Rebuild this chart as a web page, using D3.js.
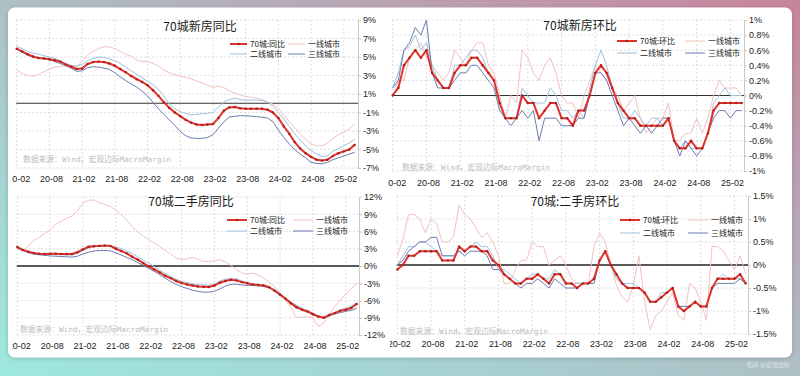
<!DOCTYPE html>
<html><head><meta charset="utf-8">
<script src="https://cdn.jsdelivr.net/npm/d3@7"></script>
<style>body{margin:0;overflow:hidden;background:#fff}svg{display:block}</style>
</head><body>
<svg id="c" width="800" height="376"></svg>
<script>
// ---------- categories ----------
const months = ["20-02","20-03","20-04","20-05","20-06","20-07","20-08","20-09","20-10","20-11","20-12","21-01",
"21-02","21-03","21-04","21-05","21-06","21-07","21-08","21-09","21-10","21-11","21-12","22-01",
"22-02","22-03","22-04","22-05","22-06","22-07","22-08","22-09","22-10","22-11","22-12","23-01",
"23-02","23-03","23-04","23-05","23-06","23-07","23-08","23-09","23-10","23-11","23-12","24-01",
"24-02","24-03","24-04","24-05","24-06","24-07","24-08","24-09","24-10","24-11","24-12","25-01",
"25-02","25-03","25-04"];
const xTickLabels = ["20-02","20-08","21-02","21-08","22-02","22-08","23-02","23-08","24-02","24-08","25-02"];
const seriesNames = ["70城","一线城市","二线城市","三线城市"];

// ---------- 70城新房同比 ----------
const newYoY70 = [5.9,5.6,5.3,5.05,4.9,4.85,4.75,4.65,4.5,4.2,3.95,3.7,3.75,4.25,4.45,4.5,4.45,4.3,4.05,3.7,3.35,2.95,2.6,2.3,1.95,1.4,0.8,0.1,-0.5,-1.0,-1.4,-1.8,-2.1,-2.3,-2.35,-2.3,-2.25,-1.6,-0.8,-0.45,-0.4,-0.55,-0.6,-0.6,-0.6,-0.6,-0.7,-1.0,-1.6,-2.5,-3.3,-4.2,-4.9,-5.4,-5.8,-6.1,-6.2,-6.1,-5.7,-5.4,-5.2,-5.0,-4.5];
const newYoYT1 = [3.6,3.25,3.0,2.9,3.1,3.4,3.7,3.9,4.0,4.0,4.0,4.0,4.5,5.2,5.6,5.9,6.1,6.1,5.9,5.6,5.3,5.1,4.7,4.5,4.5,4.3,4.0,3.6,3.3,3.1,2.95,2.8,2.65,2.4,2.2,1.95,1.7,1.85,1.7,1.35,1.1,0.9,0.75,0.65,0.55,0.4,0.15,-0.1,-0.6,-1.3,-2.0,-2.6,-3.3,-3.9,-4.4,-4.6,-4.6,-4.3,-3.8,-3.4,-3.1,-2.8,-2.2];
const newYoYT2 = [6.2,5.9,5.6,5.4,5.3,5.15,5.0,4.85,4.6,4.25,4.1,4.0,4.2,4.6,4.85,5.0,4.95,4.8,4.6,4.3,3.9,3.5,3.15,2.75,2.4,2.0,1.5,0.8,-0.1,-0.6,-0.9,-1.1,-1.25,-1.2,-1.15,-1.1,-1.0,-0.4,0.1,0.4,0.55,0.4,0.35,0.35,0.35,0.3,0.15,-0.3,-1.0,-1.7,-2.5,-3.3,-4.0,-4.6,-5.1,-5.5,-5.75,-5.7,-5.2,-4.9,-4.6,-4.3,-3.9];
const newYoYT3 = [5.9,5.5,5.2,5.0,4.9,4.8,4.7,4.5,4.3,4.05,3.8,3.45,3.5,3.85,3.95,3.9,3.8,3.65,3.3,2.85,2.45,2.1,1.75,1.3,0.8,0.1,-0.6,-1.2,-1.8,-2.4,-3.05,-3.5,-3.75,-3.8,-3.8,-3.7,-3.4,-2.7,-2.0,-1.5,-1.4,-1.35,-1.35,-1.4,-1.45,-1.5,-1.6,-2.0,-2.9,-3.7,-4.4,-5.0,-5.5,-5.9,-6.4,-6.5,-6.55,-6.4,-6.1,-5.9,-5.7,-5.5,-5.3];

// ---------- 70城新房环比 ----------
const newMoM70 = [0.0,0.1,0.4,0.5,0.6,0.5,0.6,0.3,0.2,0.1,0.1,0.3,0.4,0.4,0.5,0.5,0.4,0.3,0.2,-0.1,-0.3,-0.3,-0.3,0.0,-0.1,-0.1,-0.3,-0.2,-0.1,-0.1,-0.3,-0.3,-0.4,-0.2,-0.2,0.0,0.3,0.4,0.3,0.1,-0.1,-0.2,-0.3,-0.3,-0.4,-0.4,-0.4,-0.4,-0.4,-0.3,-0.6,-0.7,-0.7,-0.6,-0.7,-0.7,-0.5,-0.2,-0.1,-0.1,-0.1,-0.1,-0.1];
const newMoMT1 = [0.0,0.2,0.2,0.5,0.6,0.7,0.5,0.4,0.3,0.2,0.3,0.6,0.5,0.4,0.6,0.7,0.7,0.4,0.3,0.0,-0.3,0.0,-0.1,0.6,0.5,0.3,0.2,0.4,0.5,0.3,0.0,-0.1,-0.1,-0.3,0.0,0.2,0.4,0.3,0.2,0.1,0.0,-0.2,-0.1,0.0,-0.3,-0.5,-0.4,-0.3,-0.3,-0.1,-0.6,-0.6,-0.5,-0.5,-0.3,-0.5,-0.3,0.0,0.2,0.1,0.1,0.1,0.0];
const newMoMT2 = [0.1,0.3,0.6,0.65,0.8,0.6,0.7,0.4,0.2,0.1,0.1,0.4,0.4,0.5,0.6,0.6,0.5,0.3,0.2,-0.1,-0.3,-0.3,-0.3,0.1,0.0,-0.1,-0.1,-0.1,0.1,0.0,-0.2,-0.2,-0.3,-0.2,-0.3,0.1,0.4,0.6,0.4,0.1,-0.1,-0.3,-0.3,-0.2,-0.3,-0.4,-0.3,-0.3,-0.4,-0.3,-0.6,-0.7,-0.6,-0.7,-0.7,-0.7,-0.5,-0.1,0.0,0.1,0.0,0.0,0.0];
const newMoMT3 = [0.1,0.2,0.6,0.7,0.9,0.8,1.0,0.3,0.1,0.1,0.1,0.2,0.3,0.3,0.4,0.4,0.3,0.2,0.1,-0.2,-0.3,-0.4,-0.3,-0.2,-0.3,-0.2,-0.6,-0.3,-0.3,-0.3,-0.4,-0.4,-0.4,-0.3,-0.3,0.0,0.3,0.3,0.2,0.0,-0.2,-0.4,-0.3,-0.4,-0.5,-0.4,-0.5,-0.4,-0.3,-0.3,-0.6,-0.8,-0.6,-0.7,-0.8,-0.7,-0.5,-0.3,-0.2,-0.2,-0.3,-0.2,-0.2];

// ---------- 70城二手房同比 ----------
const oldYoY70 = [3.3,2.8,2.5,2.25,2.15,2.1,2.15,2.15,2.1,2.1,2.1,2.4,2.9,3.35,3.45,3.5,3.55,3.5,3.0,2.6,2.2,1.6,1.1,0.5,-0.05,-0.6,-1.1,-1.7,-2.1,-2.6,-2.95,-3.2,-3.4,-3.55,-3.6,-3.65,-3.4,-2.9,-2.6,-2.4,-2.5,-2.8,-3.0,-3.2,-3.3,-3.4,-3.7,-4.3,-5.0,-5.7,-6.5,-7.2,-7.6,-7.9,-8.4,-8.8,-9.0,-8.5,-8.2,-7.8,-7.6,-7.3,-6.6];
const oldYoYT1 = [3.1,2.6,3.5,4.4,5.0,5.6,6.3,7.2,7.8,8.3,8.7,9.6,11.0,11.4,11.5,11.0,10.7,10.4,9.7,8.9,8.0,6.8,5.9,5.2,4.6,4.0,3.4,2.7,2.1,1.4,1.1,1.25,1.5,1.2,0.8,0.75,0.9,1.1,0.7,0.1,-0.6,-1.2,-1.4,-1.25,-1.6,-2.1,-2.8,-3.6,-4.7,-6.0,-7.2,-9.0,-8.9,-8.8,-9.0,-10.5,-9.9,-8.5,-7.0,-5.9,-4.9,-4.0,-3.0];
const oldYoYT2 = [3.2,2.8,2.4,2.2,2.1,2.0,2.0,2.0,1.95,1.9,1.9,2.2,2.7,3.1,3.35,3.45,3.5,3.5,3.3,3.0,2.6,2.2,1.6,1.0,0.5,-0.1,-0.7,-1.3,-1.8,-2.3,-2.65,-2.9,-3.1,-3.25,-3.3,-3.35,-3.2,-2.6,-2.3,-2.2,-2.2,-2.6,-2.9,-3.1,-3.2,-3.4,-3.7,-4.1,-4.8,-5.6,-6.4,-7.1,-7.6,-8.0,-8.3,-8.8,-9.0,-8.6,-8.0,-7.6,-7.3,-7.0,-6.4];
const oldYoYT3 = [3.1,2.7,2.3,2.05,1.95,1.85,1.75,1.7,1.65,1.6,1.55,1.7,2.1,2.4,2.6,2.7,2.7,2.65,2.3,1.9,1.5,1.1,0.6,0.1,-0.4,-0.9,-1.5,-2.1,-2.7,-3.2,-3.6,-3.9,-4.2,-4.4,-4.55,-4.55,-4.4,-4.0,-3.5,-3.2,-3.15,-3.3,-3.4,-3.4,-3.45,-3.55,-3.8,-4.2,-4.8,-5.6,-6.3,-6.9,-7.4,-7.8,-8.2,-8.7,-9.0,-8.7,-8.3,-8.1,-7.9,-7.7,-7.35];

// ---------- 70城:二手房环比 ----------
const oldMoM70 = [-0.1,0.0,0.2,0.2,0.3,0.3,0.3,0.3,0.1,0.1,0.1,0.4,0.3,0.4,0.4,0.3,0.3,0.1,0.0,-0.2,-0.3,-0.4,-0.4,-0.3,-0.3,-0.2,-0.3,-0.4,-0.2,-0.2,-0.4,-0.4,-0.5,-0.4,-0.4,-0.3,0.1,0.3,0.0,-0.2,-0.4,-0.5,-0.5,-0.5,-0.6,-0.8,-0.8,-0.7,-0.6,-0.5,-0.9,-1.0,-0.9,-0.8,-0.9,-0.9,-0.5,-0.3,-0.3,-0.3,-0.3,-0.2,-0.4];
const oldMoMT1 = [0.2,0.55,1.1,1.1,1.0,0.7,1.0,0.9,0.5,0.5,0.6,1.3,1.1,1.0,0.8,0.6,0.7,0.5,0.2,-0.4,-0.4,-0.1,0.1,0.1,0.5,0.4,0.4,0.0,0.1,0.2,0.0,-0.3,-0.4,-0.4,-0.4,0.4,0.7,0.5,0.0,-0.45,-0.7,-0.8,-0.45,0.2,-0.8,-1.4,-1.1,-1.0,-0.8,-0.6,-1.1,-1.2,-0.4,-0.5,-0.8,-1.2,0.4,0.4,0.3,0.1,-0.1,0.2,-0.2];
const oldMoMT2 = [0.0,0.2,0.4,0.4,0.5,0.5,0.4,0.3,0.2,0.2,0.2,0.3,0.3,0.4,0.5,0.4,0.4,0.2,-0.1,-0.1,-0.2,-0.3,-0.4,-0.3,-0.2,-0.2,-0.3,-0.3,-0.1,-0.2,-0.4,-0.4,-0.4,-0.4,-0.4,-0.3,0.1,0.3,0.0,-0.3,-0.4,-0.4,-0.4,-0.5,-0.6,-0.8,-0.8,-0.6,-0.6,-0.5,-0.9,-0.9,-0.9,-0.8,-0.9,-0.9,-0.5,-0.3,-0.2,-0.3,-0.3,-0.3,-0.4];
const oldMoMT3 = [0.0,0.1,0.3,0.4,0.5,0.5,0.6,0.6,0.2,0.2,0.2,0.3,0.2,0.3,0.3,0.3,0.2,-0.1,-0.1,-0.2,-0.3,-0.4,-0.5,-0.4,-0.4,-0.3,-0.4,-0.5,-0.3,-0.4,-0.5,-0.5,-0.5,-0.4,-0.4,-0.4,0.1,0.3,0.0,-0.2,-0.4,-0.5,-0.5,-0.5,-0.6,-0.8,-0.8,-0.7,-0.6,-0.5,-0.9,-0.9,-0.9,-0.8,-0.9,-0.9,-0.5,-0.4,-0.4,-0.4,-0.4,-0.3,-0.4];

// ---------- y ticks ----------
const yTicks1 = [9,7,5,3,1,-1,-3,-5,-7];
const yTicks2 = [1,0.8,0.6,0.4,0.2,0,-0.2,-0.4,-0.6,-0.8,-1];
const yTicks3 = [12,9,6,3,0,-3,-6,-9,-12];
const yTicks4 = [1.5,1,0.5,0,-0.5,-1,-1.5];

const titles = ["70城新房同比","70城新房环比","70城二手房同比","70城:二手房环比"];
const redLabels = ["70城:同比","70城:环比","70城:同比","70城:环比"];
const sourceText = "数据来源：Wind，宏观边际MacroMargin";

// ---------- drawing ----------
const svg = d3.select("#c");
const defs = svg.append("defs");
const bg = defs.append("linearGradient").attr("id","bg").attr("x1",0).attr("y1",1).attr("x2",1).attr("y2",0);
bg.append("stop").attr("offset","0%").attr("stop-color","#9de9de");
bg.append("stop").attr("offset","50%").attr("stop-color","#adc0c6");
bg.append("stop").attr("offset","100%").attr("stop-color","#c7849c");
svg.append("rect").attr("width",800).attr("height",376).attr("fill","url(#bg)");
const sh = defs.append("filter").attr("id","sh").attr("x","-5%").attr("y","-5%").attr("width","110%").attr("height","110%");
sh.append("feDropShadow").attr("dx",0).attr("dy",1).attr("stdDeviation",2).attr("flood-color","#000").attr("flood-opacity",0.18);
svg.append("rect").attr("x",8).attr("y",7.5).attr("width",784).attr("height",350).attr("rx",7).attr("fill","#fff").attr("filter","url(#sh)");

const C = {red:"#e1322c", dot:"#a8201b", pink:"#f2c2c0", lblue:"#9ec2df", dblue:"#6c7bb0"};
const numFont = "'Liberation Sans', Arial, sans-serif";
const cjkFont = "'Noto Sans CJK SC', sans-serif";
const pct = d => (Math.round(d*10)/10).toString() + "%";

const panels = [
  {series:[newYoY70,newYoYT1,newYoYT2,newYoYT3], ticks:yTicks1, dom:[-7,9],
   clip:[12,8,375,184], x0:16.7, x1:354.7, axisX:358, yTop:20, yBot:168, labY:182, zc:"#333", zw:1.2,
   title:[200,27], leg:{r1:44,r2:54,c1:230,c2:288,len:17}, src:[23,159]},
  {series:[newMoM70,newMoMT1,newMoMT2,newMoMT3], ticks:yTicks2, dom:[-1,1],
   clip:[388,8,404,184], x0:392.7, x1:741.7, axisX:744, yTop:20, yBot:171, labY:186, zc:"#333", zw:1.2,
   title:[580,26], leg:{r1:41,r2:53,c1:617,c2:685,len:20}, src:[402,167]},
  {series:[oldYoY70,oldYoYT1,oldYoYT2,oldYoYT3], ticks:yTicks3, dom:[-12,12],
   clip:[12,186,375,171], x0:17.3, x1:356.7, axisX:359, yTop:197, yBot:335, labY:349, zc:"#5a5a5a", zw:1.8,
   title:[191,202], leg:{r1:220,r2:231,c1:227,c2:293,len:20}, src:[20,329]},
  {series:[oldMoM70,oldMoMT1,oldMoMT2,oldMoMT3], ticks:yTicks4, dom:[-1.5,1.5],
   clip:[390,186,404,171], x0:397.3, x1:745.7, axisX:748, yTop:196, yBot:334, labY:347, zc:"#5a5a5a", zw:1.8,
   title:[575,202], leg:{r1:220,r2:233,c1:620,c2:688,len:20}, src:[400,331]}
];

panels.forEach((p,k) => {
  const cid = "clip"+k;
  defs.append("clipPath").attr("id",cid).append("rect")
    .attr("x",p.clip[0]).attr("y",p.clip[1]).attr("width",p.clip[2]).attr("height",p.clip[3]);
  const g = svg.append("g").attr("clip-path",`url(#${cid})`);
  const x = d3.scalePoint().domain(months).range([p.x0,p.x1]);
  const y = d3.scaleLinear().domain(p.dom).range([p.yBot,p.yTop]);

  // horizontal dotted grid
  g.append("g").selectAll("line").data(p.ticks).join("line")
    .attr("x1",p.x0-0.5).attr("x2",p.axisX).attr("y1",d=>y(d)).attr("y2",d=>y(d))
    .attr("stroke","#d4d4d4").attr("stroke-width",0.8).attr("stroke-dasharray","2,2");
  // vertical dotted grid
  g.append("g").selectAll("line").data(xTickLabels).join("line")
    .attr("x1",d=>x(d)).attr("x2",d=>x(d)).attr("y1",p.yTop).attr("y2",p.yBot)
    .attr("stroke","#d4d4d4").attr("stroke-width",0.8).attr("stroke-dasharray","2,2");

  // source text
  g.append("text").attr("x",p.src[0]).attr("y",p.src[1]+3).text(sourceText)
    .attr("font-family","'DejaVu Sans Mono', "+cjkFont).attr("font-size",7.5)
    .attr("fill","#bdbdbd").attr("textLength",148).attr("lengthAdjust","spacingAndGlyphs");

  // zero line
  g.append("line").attr("x1",p.x0-0.5).attr("x2",p.axisX).attr("y1",y(0)).attr("y2",y(0))
    .attr("stroke",p.zc).attr("stroke-width",p.zw);

  // right axis
  const ay = g.append("g").attr("transform",`translate(${p.axisX},0)`)
    .call(d3.axisRight(y).tickValues(p.ticks).tickSize(3).tickPadding(2).tickFormat(pct));
  ay.select(".domain").attr("stroke","#c8c8c8");
  ay.selectAll(".tick line").attr("stroke","#c8c8c8");
  ay.selectAll("text").attr("font-family",numFont).attr("font-size",9).attr("fill","#222");

  // bottom labels
  const ax = g.append("g").attr("transform",`translate(1.5,${p.labY-6})`)
    .call(d3.axisBottom(x).tickValues(xTickLabels).tickSize(0).tickPadding(0));
  ax.select(".domain").remove();
  ax.selectAll("text").attr("font-family",numFont).attr("font-size",9).attr("fill","#222");

  // lines
  const line = d3.line().x((d,i)=>x(months[i])).y(d=>y(d));
  const cols = [C.red,C.pink,C.lblue,C.dblue];
  const widths = [2,1,1,1];
  [1,2,3,0].forEach(s => {
    g.append("path").datum(p.series[s]).attr("d",line).attr("fill","none")
      .attr("stroke",cols[s]).attr("stroke-width",widths[s]).attr("stroke-linejoin","round");
  });
  g.append("g").selectAll("circle").data(p.series[0]).join("circle")
    .attr("cx",(d,i)=>x(months[i])).attr("cy",d=>y(d)).attr("r",1.2).attr("fill",C.dot);

  // title
  g.append("text").attr("x",p.title[0]).attr("y",p.title[1]+4).attr("text-anchor","middle")
    .text(titles[k]).attr("font-family",cjkFont).attr("font-size",12).attr("fill","#1a1a1a");

  // legend
  const L = p.leg;
  const items = [
    {c:C.red,w:2,t:redLabels[k],x:L.c1,y:L.r1,dot:true},
    {c:C.pink,w:1,t:seriesNames[1],x:L.c2,y:L.r1},
    {c:C.lblue,w:1,t:seriesNames[2],x:L.c1,y:L.r2},
    {c:C.dblue,w:1,t:seriesNames[3],x:L.c2,y:L.r2}
  ];
  items.forEach(it => {
    g.append("line").attr("x1",it.x).attr("x2",it.x+L.len).attr("y1",it.y).attr("y2",it.y)
      .attr("stroke",it.c).attr("stroke-width",it.w);
    if (it.dot) g.append("circle").attr("cx",it.x+L.len/2).attr("cy",it.y).attr("r",1.3).attr("fill",C.dot);
    g.append("text").attr("x",it.x+L.len+3).attr("y",it.y+3).text(it.t)
      .attr("font-family",cjkFont).attr("font-size",8).attr("fill","#222");
  });
});

// footer mark
svg.append("text").attr("x",790).attr("y",367).attr("text-anchor","end").text("知乎 @宏观边际")
  .attr("font-family",cjkFont).attr("font-size",6).attr("fill","#e8eef0").attr("opacity",0.8);
</script>
</body></html>
